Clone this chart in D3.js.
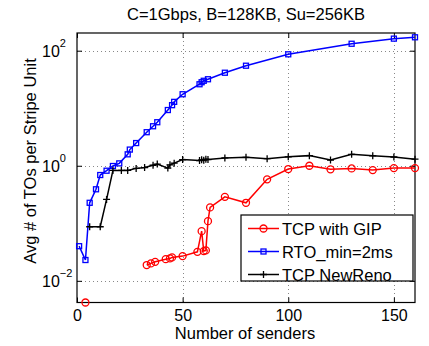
<!DOCTYPE html>
<html>
<head>
<meta charset="utf-8">
<script src="https://cdn.jsdelivr.net/npm/d3@7"></script>
<style>
  body { margin: 0; background: #fff; }
  text { font-family: "Liberation Sans", Arial, sans-serif; fill: #000; }
</style>
</head>
<body>
<div id="chart"></div>
<script>
// TCP with GIP (first point sits alone at the bottom, not joined to the rest)
const gipX = [4, 33, 35, 37, 42, 44, 45, 50, 57, 59, 60, 61, 62, 63, 70, 80, 90, 100, 110, 120, 130, 140, 150, 160];
const gipY = [0.0042, 0.0188, 0.0201, 0.0214, 0.0238, 0.0245, 0.0255, 0.0269, 0.0319, 0.073, 0.0329, 0.0338, 0.109, 0.189, 0.288, 0.227, 0.58, 0.877, 1.0, 0.866, 0.90, 0.84, 0.91, 0.91];

// RTO_min=2ms
const rtoX = [1, 4, 6, 9, 11, 14, 17, 20, 24, 25, 28, 33, 36, 38, 43, 45, 46, 50, 58, 59, 60, 62, 70, 80, 100, 130, 150, 160];
const rtoY = [0.040, 0.023, 0.227, 0.39, 0.69, 0.82, 0.99, 1.10, 1.58, 1.91, 2.48, 3.83, 4.86, 5.71, 9.3, 11.3, 12.9, 17.5, 26.1, 28.3, 30.0, 31.9, 41.4, 54.8, 86.5, 132, 162, 171];

// TCP NewReno
const renoX = [6, 11, 14, 17, 21, 24, 28, 32, 36, 38, 43, 44, 46, 50, 58, 59, 60, 61, 62, 70, 80, 90, 100, 110, 120, 130, 140, 150, 160];
const renoY = [0.087, 0.087, 0.26, 0.83, 0.83, 0.83, 0.90, 0.93, 1.02, 1.07, 0.91, 1.04, 1.11, 1.28, 1.23, 1.27, 1.25, 1.30, 1.28, 1.37, 1.40, 1.33, 1.43, 1.50, 1.26, 1.58, 1.49, 1.42, 1.30];

const xTicks = [0, 50, 100, 150];
const yTicks = [1e-2, 1e0, 1e2];
const yExps = ["\u22122", "0", "2"];
const legendLabels = ["TCP with GIP", "RTO_min=2ms", "TCP NewReno"];
const title = "C=1Gbps, B=128KB, Su=256KB";
const xLabel = "Number of senders";
const yLabel = "Avg # of TOs per Stripe Unit";

const W = 429, H = 346;
const m = { left: 77, right: 415, top: 33, bottom: 302.5 };

const svg = d3.select("#chart").append("svg")
  .attr("width", W)
  .attr("height", H);

svg.append("rect").attr("width", W).attr("height", H).attr("fill", "#fff");

const x = d3.scaleLinear().domain([0, 160]).range([m.left, m.right]);
const y = d3.scaleLog().domain([0.0042, 203]).range([m.bottom, m.top]);

// grid
const grid = svg.append("g")
  .attr("stroke", "#888")
  .attr("stroke-width", 1)
  .attr("stroke-dasharray", "1,3");
grid.selectAll(".gx").data(xTicks.slice(1)).join("line")
  .attr("x1", d => Math.round(x(d)) + 0.5).attr("x2", d => Math.round(x(d)) + 0.5)
  .attr("y1", m.top).attr("y2", m.bottom);
grid.selectAll(".gy").data(yTicks).join("line")
  .attr("x1", m.left).attr("x2", m.right)
  .attr("y1", d => Math.round(y(d)) + 0.5).attr("y2", d => Math.round(y(d)) + 0.5);

// axes, ticks inward
const fs = "16px";
const xAxis = svg.append("g")
  .attr("transform", `translate(0,${m.bottom})`)
  .call(d3.axisBottom(x).tickValues(xTicks).tickSize(-5).tickPadding(7));
xAxis.select(".domain").remove();
xAxis.selectAll("text").attr("font-size", fs).attr("font-family", "Liberation Sans, Arial, sans-serif");

svg.append("g")
  .attr("transform", `translate(0,${m.top})`)
  .call(d3.axisTop(x).tickValues(xTicks).tickSize(-5).tickFormat(""))
  .select(".domain").remove();

const yAxis = svg.append("g")
  .attr("transform", `translate(${m.left},0)`)
  .call(d3.axisLeft(y).tickValues(yTicks).tickSize(-5).tickFormat(""));
yAxis.select(".domain").remove();
yAxis.selectAll(".tick").append("text")
  .attr("x", -35)
  .attr("y", 5.5)
  .attr("text-anchor", "start")
  .attr("font-size", fs)
  .attr("fill", "#000")
  .text("10")
  .append("tspan")
  .attr("dy", -9.5)
  .attr("font-size", "11px")
  .text((d, i) => yExps[i]);

svg.append("g")
  .attr("transform", `translate(${m.right},0)`)
  .call(d3.axisRight(y).tickValues(yTicks).tickSize(-5).tickFormat(""))
  .select(".domain").remove();

svg.selectAll(".tick line").attr("stroke", "#000");

// frame
svg.append("rect")
  .attr("x", m.left).attr("y", m.top)
  .attr("width", m.right - m.left).attr("height", m.bottom - m.top)
  .attr("fill", "none").attr("stroke", "#000").attr("stroke-width", 1.2);

// series
const gip = gipX.map((v, i) => ({ x: v, y: gipY[i] }));
const rto = rtoX.map((v, i) => ({ x: v, y: rtoY[i] }));
const reno = renoX.map((v, i) => ({ x: v, y: renoY[i] }));

const line = d3.line().x(d => x(d.x)).y(d => y(d.y));

function drawMarkers(g, data, type, color) {
  if (type === "circle") {
    g.selectAll("circle").data(data).join("circle")
      .attr("cx", d => x(d.x)).attr("cy", d => y(d.y)).attr("r", 3.5)
      .attr("fill", "none").attr("stroke", color).attr("stroke-width", 1.3);
  } else if (type === "square") {
    g.selectAll("rect").data(data).join("rect")
      .attr("x", d => x(d.x) - 2.5).attr("y", d => y(d.y) - 2.5)
      .attr("width", 5).attr("height", 5)
      .attr("fill", "none").attr("stroke", color).attr("stroke-width", 1.3);
  } else {
    g.selectAll("path").data(data).join("path")
      .attr("d", d => `M${x(d.x) - 3.5},${y(d.y)}h7M${x(d.x)},${y(d.y) - 3.5}v7`)
      .attr("stroke", color).attr("stroke-width", 1.3);
  }
}

const series = [
  { data: gip, lineData: gip.slice(1), color: "#ff0000", marker: "circle" },
  { data: rto, lineData: rto, color: "#0000ff", marker: "square" },
  { data: reno, lineData: reno, color: "#000000", marker: "plus" }
];

series.forEach(s => {
  svg.append("path")
    .datum(s.lineData)
    .attr("d", line)
    .attr("fill", "none")
    .attr("stroke", s.color)
    .attr("stroke-width", 1.5);
  drawMarkers(svg.append("g"), s.data, s.marker, s.color);
});

// legend
const lg = svg.append("g");
lg.append("rect")
  .attr("x", 241).attr("y", 215).attr("width", 172).attr("height", 66)
  .attr("fill", "#fff").attr("stroke", "#000").attr("stroke-width", 1.2);
series.forEach((s, i) => {
  const cy = 228.5 + i * 23;
  lg.append("line")
    .attr("x1", 248).attr("x2", 279).attr("y1", cy).attr("y2", cy)
    .attr("stroke", s.color).attr("stroke-width", 1.5);
  const mg = lg.append("g");
  // legend marker drawn at its own pixel spot
  if (s.marker === "circle") {
    mg.append("circle").attr("cx", 263.5).attr("cy", cy).attr("r", 3.5)
      .attr("fill", "none").attr("stroke", s.color).attr("stroke-width", 1.3);
  } else if (s.marker === "square") {
    mg.append("rect").attr("x", 261).attr("y", cy - 2.5).attr("width", 5).attr("height", 5)
      .attr("fill", "none").attr("stroke", s.color).attr("stroke-width", 1.3);
  } else {
    mg.append("path").attr("d", `M260,${cy}h7M263.5,${cy - 3.5}v7`)
      .attr("stroke", s.color).attr("stroke-width", 1.3);
  }
  lg.append("text")
    .attr("x", 282).attr("y", cy + 6)
    .attr("font-size", "16.5px")
    .text(legendLabels[i]);
});

// titles
svg.append("text")
  .attr("x", (m.left + m.right) / 2).attr("y", 20)
  .attr("text-anchor", "middle")
  .attr("font-size", "16.5px")
  .text(title);

svg.append("text")
  .attr("x", (m.left + m.right) / 2 - 1).attr("y", 339)
  .attr("text-anchor", "middle")
  .attr("font-size", "16.5px")
  .text(xLabel);

svg.append("text")
  .attr("transform", "translate(36,161) rotate(-90)")
  .attr("text-anchor", "middle")
  .attr("font-size", "16.5px")
  .text(yLabel);
</script>
</body>
</html>
